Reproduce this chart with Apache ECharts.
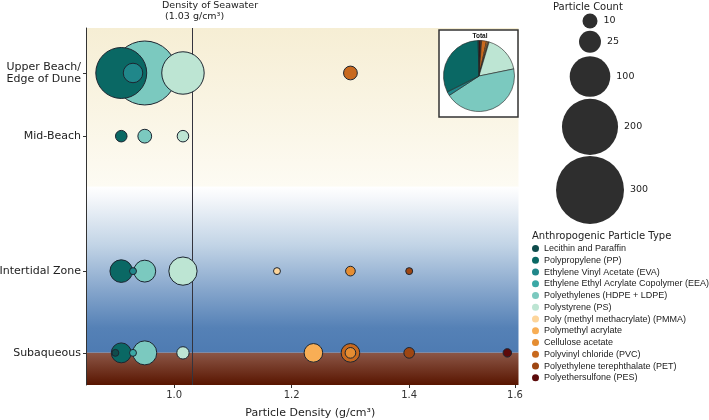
<!DOCTYPE html>
<html><head><meta charset="utf-8">
<script src="https://cdn.jsdelivr.net/npm/echarts@6/dist/echarts.min.js"></script>
<style>html,body{margin:0;padding:0;background:#fff}#c{width:709px;height:420px}</style>
</head><body><div id="c"></div>
<script>
// ---------- DATA ----------
const types = ['Lecithin and Paraffin','Polypropylene (PP)','Ethylene Vinyl Acetate (EVA)','Ethylene Ethyl Acrylate Copolymer (EEA)','Polyethylenes (HDPE + LDPE)','Polystyrene (PS)','Poly (methyl methacrylate) (PMMA)','Polymethyl acrylate','Cellulose acetate','Polyvinyl chloride (PVC)','Polyethylene terephthalate (PET)','Polyethersulfone (PES)'];
const density = [0.90, 0.91, 0.93, 0.93, 0.95, 1.015, 1.175, 1.237, 1.30, 1.30, 1.40, 1.567];
const zones = ['Upper Beach/\nEdge of Dune','Mid-Beach','Intertidal Zone','Subaqueous'];
const zonePos = [87.4, 69.7, 31.9, 9.0];
const countUpper      = [0,163,19,0,264,110,0,0,0,8,0,0];
const countMid        = [0,5,0,0,8,5,0,0,0,0,0,0];
const countIntertidal = [0,27,1,0,25,45,1,0,3,0,1,0];
const countSub        = [1,20,0,1,31,6,0,17,4,17,4,2];
const pieShare = [0.4,32,1.8,0,44,17.2,0.2,0.4,0.6,2.2,0.4,0.8]; // % of total
const seawaterDensity = 1.03;
const xTicks = [1.0, 1.2, 1.4, 1.58];
const xTickLabels = ['1.0','1.2','1.4','1.6'];
const sizeBreaks = [10, 25, 100, 200, 300];

// ---------- STYLE ----------
const palette = ['#0f4c4c','#0a6864','#20878a','#3aa8a5','#7bc9bf','#bde5d3','#fdd59b','#f8ae55','#e58d32','#c8691e','#9e4612','#5c0a0a'];
const FONT = 'DejaVu Sans';
const sizeOf = n => 2 * (1.6 + 1.87 * Math.sqrt(n));
const countsByZone = [countUpper, countMid, countIntertidal, countSub];
const totals = types.map((t, i) => countsByZone.reduce((s, a) => s + a[i], 0));
const order = types.map((t, i) => i).sort((a, b) => totals[b] - totals[a]);
const zOf = {}; order.forEach((idx, r) => zOf[idx] = 3 + r);

const grad = (stops) => new echarts.graphic.LinearGradient(0, 0, 0, 1, stops.map(s => ({offset: s[0], color: s[1]})));

const series = [];
series.push({
  type: 'scatter', name: 'bg', data: [], z: 0, silent: true,
  markArea: {
    silent: true, label: {show: false},
    data: [
      [{yAxis: 100, itemStyle: {color: grad([[0,'#f6eed4'],[1,'#fdfbf3']]), opacity: 1, borderWidth: 0}}, {yAxis: 55.5}],
      [{yAxis: 55.5, itemStyle: {color: grad([[0,'#ffffff'],[0.06,'#f6f8fb'],[0.35,'#c2d4e6'],[0.62,'#86a6cc'],[0.85,'#5581b6'],[1,'#4e7bb2']]), opacity: 1, borderWidth: 0}}, {yAxis: 9.0}],
      [{yAxis: 9.0, itemStyle: {color: grad([[0,'#8b5646'],[1,'#591500']]), opacity: 1, borderWidth: 0}}, {yAxis: 0}]
    ]
  }
});
series.push({
  type: 'scatter', name: 'seawater', data: [], z: 1, silent: true,
  markLine: {
    silent: true, symbol: ['none','none'], label: {show: false},
    lineStyle: {color: '#34343e', width: 1, type: 'solid'},
    data: [{xAxis: seawaterDensity}]
  }
});
types.forEach((t, i) => {
  const data = [];
  countsByZone.forEach((arr, k) => { if (arr[i] > 0) data.push([density[i], zonePos[k], arr[i]]); });
  series.push({
    type: 'scatter', name: t, z: zOf[i], data,
    symbolSize: v => sizeOf(v[2]),
    itemStyle: {color: palette[i], borderColor: '#1c2530', borderWidth: 1, opacity: 1},
    emphasis: {disabled: true}
  });
});
const pieData = types.map((t, i) => ({name: t, value: pieShare[i], itemStyle: {color: palette[i]}}))
  .filter(d => d.value > 0).reverse();
series.push({
  type: 'pie', name: 'Total', z: 21, center: [479, 76], radius: 35.5, startAngle: 90, clockwise: true,
  label: {show: false}, labelLine: {show: false}, emphasis: {disabled: true}, silent: true,
  itemStyle: {borderColor: '#222', borderWidth: 0.6},
  data: pieData
});

// size legend graphics
const sizeGraphics = [];
const gaps = [0, 2.3, 3.5, 2, 1];
let yCursor = 13.5;
sizeBreaks.forEach((n, i) => {
  const r = sizeOf(n) / 2;
  const cy = yCursor + gaps[i] + r;
  yCursor = cy + r;
  sizeGraphics.push({type: 'circle', shape: {cx: 590, cy, r}, style: {fill: '#2e2e2e'}, z: 20});
  sizeGraphics.push({type: 'text', x: 590 + r + 6, y: cy, style: {text: String(n), fontFamily: FONT, fontSize: 9.5, fill: '#222', verticalAlign: 'middle', align: 'left'}, z: 20});
});

const chart = echarts.init(document.getElementById('c'), null, {renderer: 'canvas'});
chart.setOption({
  animation: false,
  backgroundColor: '#fff',
  grid: {left: 86, right: 190.5, top: 28, bottom: 35, containLabel: false, outerBoundsMode: 'none'},
  xAxis: {
    type: 'value', min: 0.85, max: 1.586, z: 10,
    name: 'Particle Density (g/cm³)', nameLocation: 'middle', nameGap: 23,
    nameTextStyle: {fontFamily: FONT, fontSize: 11, color: '#222', padding: [0, 0, 0, 16]},
    axisLine: {show: false},
    axisTick: {show: true, customValues: xTicks, length: 3, lineStyle: {color: '#333'}},
    axisLabel: {customValues: xTicks, formatter: v => xTickLabels[xTicks.findIndex(t => Math.abs(t - v) < 1e-6)] || '', fontFamily: FONT, fontSize: 10, color: '#333', margin: 5},
    splitLine: {show: false}
  },
  yAxis: {
    type: 'value', min: 0, max: 100, z: 10,
    axisLine: {show: true, lineStyle: {color: '#333', width: 1}},
    axisTick: {show: true, customValues: zonePos, length: 3, lineStyle: {color: '#333'}},
    axisLabel: {customValues: zonePos, formatter: v => zones[zonePos.findIndex(p => Math.abs(p - v) < 1e-6)] || '', fontFamily: FONT, fontSize: 11, color: '#222', margin: 5, lineHeight: 12, align: 'right'},
    splitLine: {show: false}
  },
  legend: {
    data: types, orient: 'vertical', left: 532, top: 243, padding: 0,
    itemWidth: 7, itemHeight: 7, itemGap: 0.76, icon: 'circle',
    itemStyle: {borderWidth: 0},
    textStyle: {fontFamily: 'Liberation Sans', fontSize: 9, color: '#222', lineHeight: 11},
    selectedMode: false
  },
  graphic: [
    {type: 'text', x: 162, y: 0, z: 20, style: {text: 'Density of Seawater\n (' + seawaterDensity.toFixed(2) + ' g/cm³)', fontFamily: FONT, fontSize: 9.5, lineHeight: 11, fill: '#222', align: 'left', verticalAlign: 'top'}},
    {type: 'rect', shape: {x: 439, y: 30, width: 79, height: 87}, style: {fill: '#fff', stroke: '#333', lineWidth: 1.5}, z: 19},
    {type: 'text', x: 480, y: 36, z: 22, style: {text: 'Total', fontFamily: 'Liberation Sans', fontWeight: 'bold', fontSize: 6.5, fill: '#111', align: 'center', verticalAlign: 'middle'}},
    {type: 'text', x: 553, y: 7, z: 20, style: {text: 'Particle Count', fontFamily: FONT, fontSize: 10, fill: '#222', align: 'left', verticalAlign: 'middle'}},
    {type: 'text', x: 532, y: 236, z: 20, style: {text: 'Anthropogenic Particle Type', fontFamily: FONT, fontSize: 10, fill: '#222', align: 'left', verticalAlign: 'middle'}},
    ...sizeGraphics
  ],
  series
});
</script>
</body></html>
